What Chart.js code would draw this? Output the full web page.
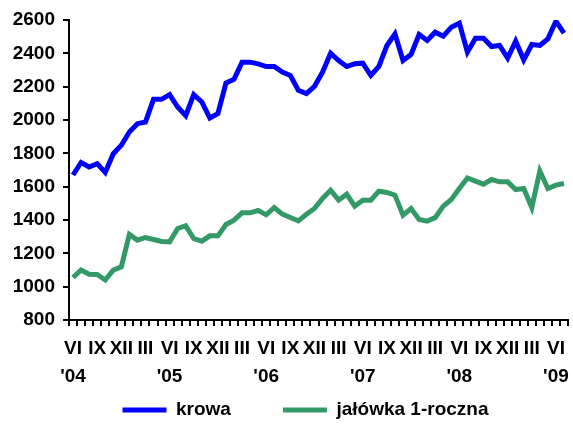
<!DOCTYPE html>
<html>
<head>
<meta charset="utf-8">
<script src="https://cdn.jsdelivr.net/npm/chart.js@4"></script>
<style>
  html, body { margin: 0; padding: 0; background: #fff; }
  #wrap { width: 573px; height: 425px; }
</style>
</head>
<body>
<div id="wrap"><canvas id="priceChart" width="573" height="425"></canvas></div>
<script>
// VI 2004 .. VII 2009, one entry per month
const monthLabels = [
    ['VI', "'04"], '', '', 'IX', '', '', 'XII', '', '', 'III', '', '',
    ['VI', "'05"], '', '', 'IX', '', '', 'XII', '', '', 'III', '', '',
    ['VI', "'06"], '', '', 'IX', '', '', 'XII', '', '', 'III', '', '',
    ['VI', "'07"], '', '', 'IX', '', '', 'XII', '', '', 'III', '', '',
    ['VI', "'08"], '', '', 'IX', '', '', 'XII', '', '', 'III', '', '',
    ['VI', "'09"], ''
];

const krowa = [
    1670, 1745, 1718, 1738, 1685, 1798, 1848, 1928, 1978, 1988, 2124, 2124,
    2152, 2078, 2026, 2152, 2108, 2012, 2038, 2222, 2244, 2347, 2347, 2337,
    2321, 2321, 2287, 2267, 2178, 2158, 2202, 2287, 2401, 2357, 2321, 2337,
    2341, 2267, 2321, 2447, 2517, 2357, 2393, 2513, 2477, 2527, 2503, 2557,
    2581, 2407, 2491, 2491, 2441, 2447, 2371, 2473, 2361, 2453, 2447, 2487,
    2593, 2521
];

const jalowka = [
    1055, 1100, 1075, 1073, 1040, 1099, 1119, 1313, 1279, 1295, 1283, 1271,
    1269, 1349, 1365, 1289, 1273, 1305, 1305, 1373, 1399, 1443, 1443, 1457,
    1431, 1475, 1435, 1415, 1395, 1434, 1469, 1529, 1579, 1519, 1555, 1483,
    1519, 1519, 1573, 1565, 1549, 1429, 1469, 1403, 1393, 1414, 1483, 1523,
    1589, 1652, 1633, 1615, 1643, 1629, 1629, 1583, 1589, 1475, 1694, 1589,
    1609, 1619
];

const seriesNames = ['krowa', 'jałówka 1-roczna'];
const seriesColors = ['#0000ff', '#339966'];

const font = { family: '"Liberation Sans", Arial, sans-serif', size: 19, weight: 'bold' };
const legendGap = 52;

const axisGrid = {
    display: true,
    drawOnChartArea: false,
    drawTicks: true,
    tickLength: 6,
    color: '#000',
    lineWidth: 2
};

// legend keeps a wide gap between items, so place its row by hand
const legendPlace = {
    id: 'legendPlace',
    afterLayout: (chart) => {
        const lg = chart.legend;
        lg.left += 14;
        lg.right += 14;
        lg.top = 410 - font.size / 2 - legendGap;
        lg.bottom = lg.top + font.size + legendGap + 12;
    }
};

const ctx = document.getElementById('priceChart').getContext('2d');

new Chart(ctx, {
    type: 'line',
    data: {
        labels: monthLabels,
        datasets: [
            {
                label: seriesNames[0],
                data: krowa,
                borderColor: seriesColors[0],
                backgroundColor: seriesColors[0],
                borderWidth: 5,
                pointRadius: 0,
                tension: 0
            },
            {
                label: seriesNames[1],
                data: jalowka,
                borderColor: seriesColors[1],
                backgroundColor: seriesColors[1],
                borderWidth: 5,
                pointRadius: 0,
                tension: 0
            }
        ]
    },
    options: {
        responsive: false,
        animation: false,
        layout: {
            padding: { left: 12, right: 2, top: 20, bottom: 0 }
        },
        scales: {
            x: {
                offset: true,
                grid: Object.assign({}, axisGrid, { offset: true }),
                border: { display: true, color: '#000', width: 2 },
                ticks: {
                    autoSkip: false,
                    maxRotation: 0,
                    minRotation: 0,
                    padding: 9,
                    color: '#000',
                    font: Object.assign({}, font, { lineHeight: 1.45 })
                },
                afterFit: (scale) => { scale.height = 68; }
            },
            y: {
                min: 800,
                max: 2600,
                grid: axisGrid,
                border: { display: true, color: '#000', width: 2 },
                ticks: {
                    stepSize: 200,
                    padding: 8,
                    color: '#000',
                    font: font,
                    callback: (value) => String(value)
                },
                afterFit: (scale) => { scale.width = 57; }
            }
        },
        plugins: {
            legend: {
                position: 'bottom',
                maxHeight: 37,
                labels: {
                    usePointStyle: true,
                    pointStyle: 'line',
                    pointStyleWidth: 44,
                    padding: legendGap,
                    color: '#000',
                    font: font
                }
            },
            tooltip: { enabled: false }
        }
    },
    plugins: [legendPlace]
});
</script>
</body>
</html>
